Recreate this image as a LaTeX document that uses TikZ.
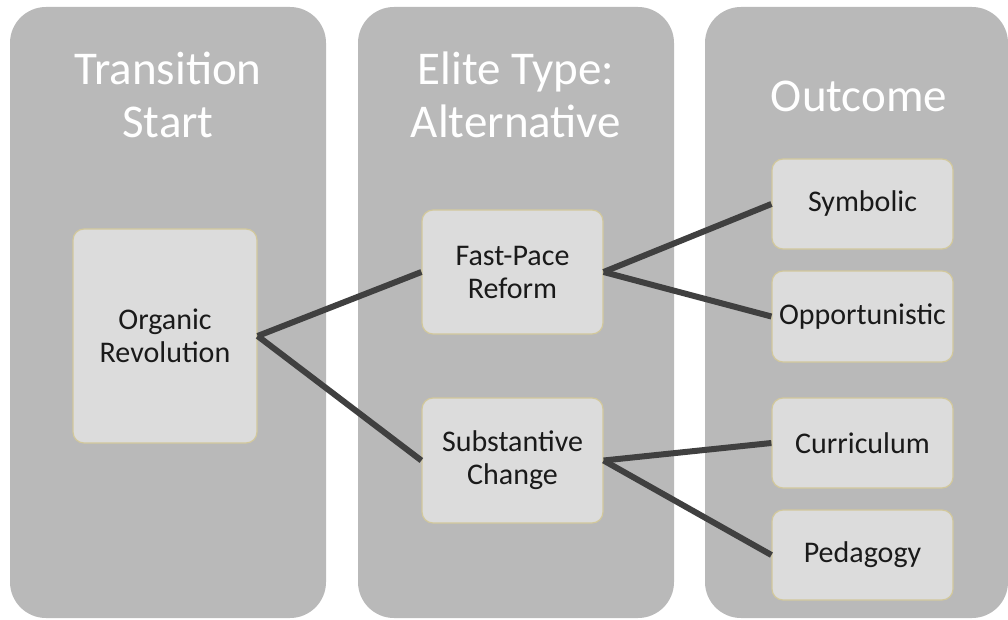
\documentclass[tikz,border=0pt]{standalone}
\usepackage{fontspec}
\setmainfont{Carlito}
\definecolor{colbg}{HTML}{B9B9B9}
\definecolor{boxbg}{HTML}{DCDCDC}
\definecolor{boxline}{HTML}{D2C89C}
\definecolor{connc}{HTML}{404040}
\definecolor{txt}{HTML}{1A1A1A}
\tikzset{
  column/.style={fill=colbg, rounded corners=36pt, inner sep=0pt},
  coltitle/.style={text=white, font=\fontsize{47}{53}\selectfont, align=center, inner sep=0pt},
  itembox/.style={fill=boxbg, draw=boxline, line width=1.2pt, rounded corners=11pt, inner sep=0pt,
                  text=txt, font=\fontsize{30}{33}\selectfont, align=center},
  conn/.style={draw=connc, line width=6pt}
}
\begin{document}
\begin{tikzpicture}[x=1pt,y=-1pt]
\useasboundingbox (0,0) rectangle (1008,620);
% columns
\node[column, minimum width=316pt, minimum height=611pt] (c1) at (168,312.5) {};
\node[column, minimum width=316pt, minimum height=611pt] (c2) at (516,312.5) {};
\node[column, minimum width=303pt, minimum height=611pt] (c3) at (856.5,312.5) {};
% titles (base anchor = baseline of last line)
\node[coltitle, anchor=base] (t1) at (168,138) {Transition\\Start};
\node[coltitle, anchor=base] (t2) at (516,138) {Elite Type:\\Alternative};
\node[coltitle, anchor=base] (t3) at (859,112) {Outcome};
% boxes
\node[itembox, minimum width=184pt, minimum height=214pt] (org) at (165,336) {Organic\\Revolution};
\node[itembox, minimum width=181pt, minimum height=124pt] (fast) at (512.5,272) {Fast-Pace\\Reform};
\node[itembox, minimum width=181pt, minimum height=125pt] (subst) at (512.5,460.5) {Substantive\\Change};
\node[itembox, minimum width=181pt, minimum height=90pt] (sym) at (862.5,204) {Symbolic};
\node[itembox, minimum width=181pt, minimum height=91pt] (opp) at (862.5,316.5) {Opportunistic};
\node[itembox, minimum width=181pt, minimum height=90pt] (cur) at (862.5,443) {Curriculum};
\node[itembox, minimum width=181pt, minimum height=90pt] (ped) at (862.5,555) {Pedagogy};
% connectors
\draw[conn] (org.east) -- (fast.west);
\draw[conn] (org.east) -- (subst.west);
\draw[conn] (fast.east) -- (sym.west);
\draw[conn] (fast.east) -- (opp.west);
\draw[conn] (subst.east) -- (cur.west);
\draw[conn] (subst.east) -- (ped.west);
\end{tikzpicture}
\end{document}
